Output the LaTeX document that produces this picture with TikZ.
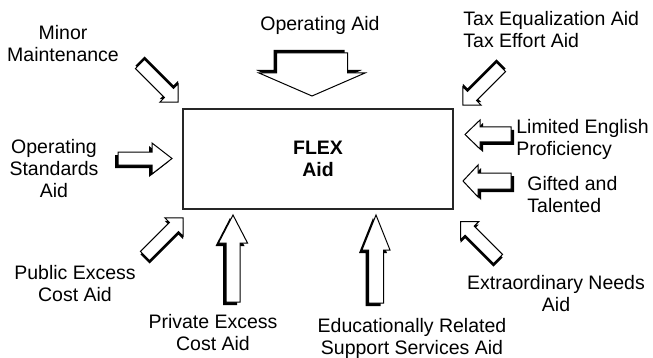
\documentclass[tikz,border=0pt]{standalone}
\usepackage{fontspec}
\setmainfont{Liberation Sans}

\tikzset{
  lbl/.style={font=\fontsize{9.75}{11}\selectfont, inner sep=0pt},
  pics/blockarrow/.style args={#1/#2/#3/#4/#5/#6/#7}{code={
    \fill[black, shift={(#6,#7)}, rotate=#1] (0,-#3) -- (#2-#5,-#3) -- (#2-#5,-#4) -- (#2,0)
      -- (#2-#5,#4) -- (#2-#5,#3) -- (0,#3) -- cycle;
    \draw[line width=0.5pt, fill=white, rotate=#1] (0,-#3) -- (#2-#5,-#3) -- (#2-#5,-#4) -- (#2,0)
      -- (#2-#5,#4) -- (#2-#5,#3) -- (0,#3) -- cycle;
  }}
}

\begin{document}
\begin{tikzpicture}[x=0.5pt, y=-0.5pt]
\useasboundingbox (0,0) rectangle (653,358);
\node[draw=black!85, line width=1pt, minimum width=135pt, minimum height=50pt,
  lbl, font=\fontsize{9.75}{11}\selectfont\bfseries, align=center] (flex) at (318,159) {FLEX\\Aid};

\node[lbl] (opaid) at (320,25) {Operating Aid};
\node[lbl, align=center] (minor) at (63,44) {Minor\\Maintenance};
\node[lbl, align=left, anchor=west] (taxeq) at (463,30) {Tax Equalization Aid\\Tax Effort Aid};
\node[lbl, align=center] (opstd) at (54,169) {Operating\\Standards\\Aid};
\node[lbl, align=left, anchor=west] (leng) at (516,139) {Limited English\\Proficiency};
\node[lbl, align=left, anchor=west] (gifted) at (527,195) {Gifted and\\Talented};
\node[lbl, align=center] (pubex) at (75,284) {Public Excess\\Cost Aid};
\node[lbl, align=center] (privex) at (213,333) {Private Excess\\Cost Aid};
\node[lbl, align=center] (edrel) at (412,338) {Educationally Related\\Support Services Aid};
\node[lbl, align=center] (extra) at (556,294) {Extraordinary Needs\\Aid};

\pic at (312,53) {blockarrow=-90/43/35.5/53/23/-3/-3};
\pic at (140,64) {blockarrow=-45/54/6.5/13/13/0/-3};
\pic at (501,67) {blockarrow=-135/54/6.5/13/13/0/-3};
\pic at (118,158.5) {blockarrow=0/54/6.5/15.5/20/-3/3};
\pic at (511,134.5) {blockarrow=180/46/7.5/14.5/15/3/3};
\pic at (511,181) {blockarrow=180/48/8/16/15/3/3};
\pic at (145,256) {blockarrow=45/54/6.5/13/13/0/3};
\pic at (233,302) {blockarrow=90/87/7/14.5/28/-3/3};
\pic at (376,303) {blockarrow=90/88/7.5/14/35/-3/3};
\pic at (498,259) {blockarrow=135/53/6.5/13/13/0/3};
\end{tikzpicture}
\end{document}
